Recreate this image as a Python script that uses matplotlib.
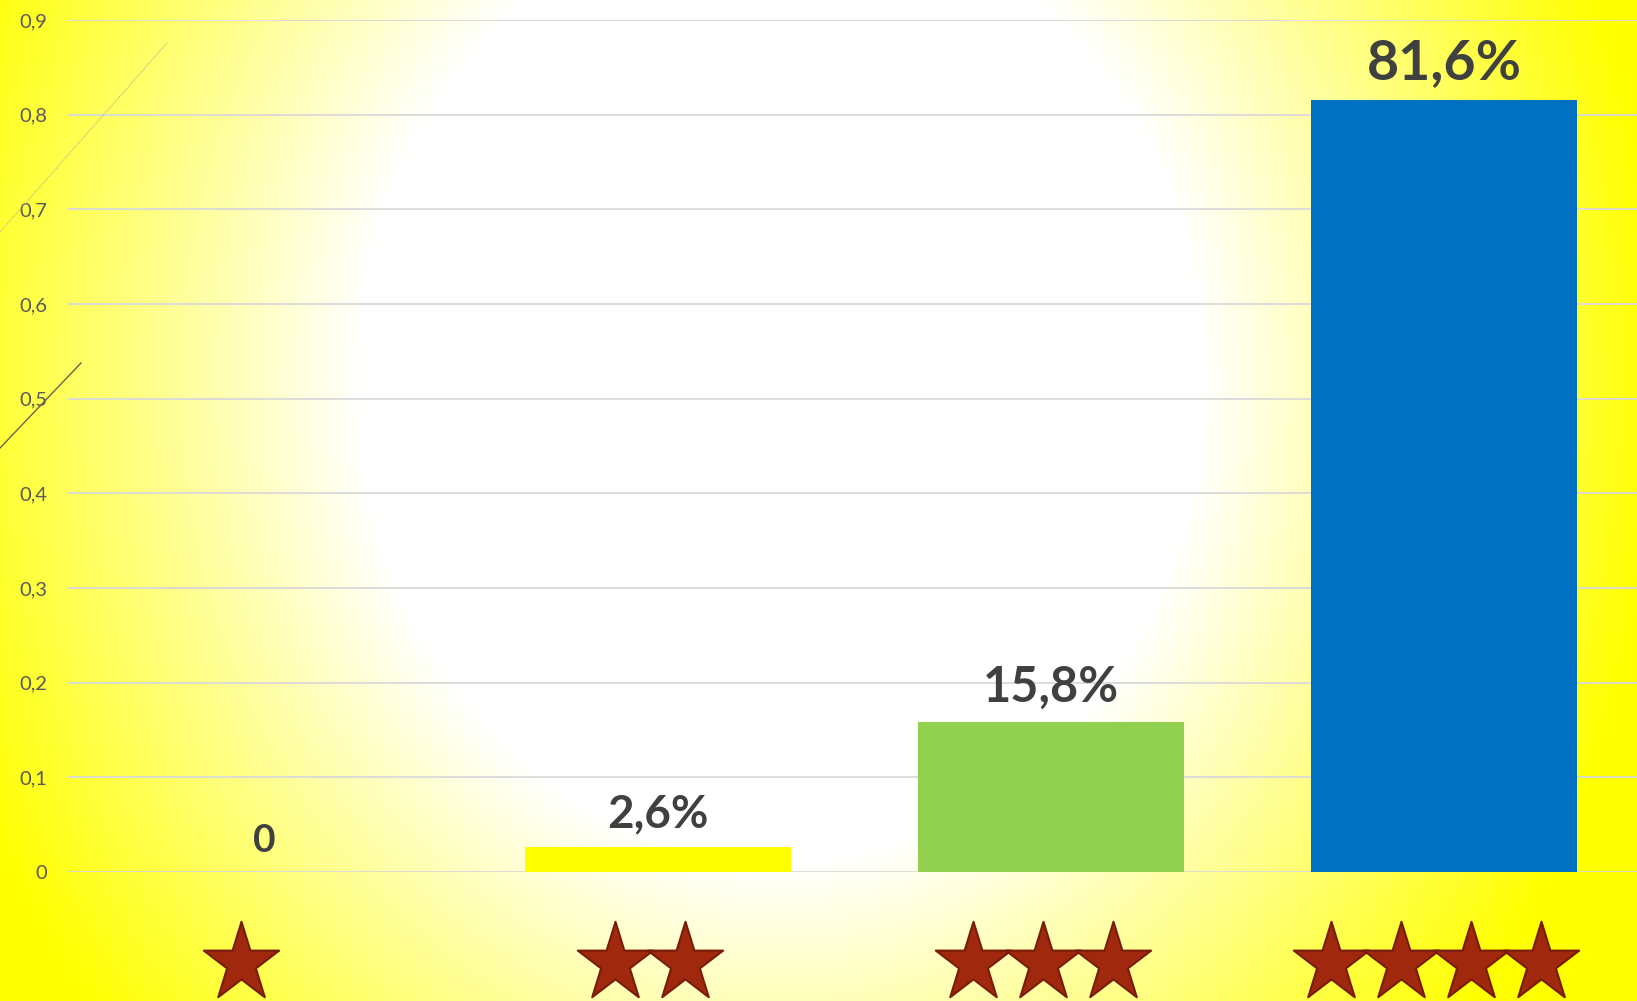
import numpy as np
import matplotlib.pyplot as plt
from matplotlib.path import Path
from matplotlib.lines import Line2D
from matplotlib.ticker import FuncFormatter

# data
star_counts = [1, 2, 3, 4]
values = [0.0, 0.026, 0.158, 0.816]
value_labels = ["0", "2,6%", "15,8%", "81,6%"]
label_sizes = [28, 33, 35, 40]
bar_colors = ["#ffff00", "#ffff00", "#92d050", "#0070c0"]
yticks = [0, 0.1, 0.2, 0.3, 0.4, 0.5, 0.6, 0.7, 0.8, 0.9]

W, H = 1637, 1001
fig = plt.figure(figsize=(W / 100, H / 100), dpi=100)

# radial white -> yellow background
bg = fig.add_axes([0, 0, 1, 1], zorder=-10)
yy, xx = np.mgrid[0:H, 0:W]
d = np.sqrt(((xx - 780) / 420.0) ** 2 + ((yy - 380) / 480.0) ** 2)
t = np.clip((d - 1.0) / 1.1, 0, 1)
img = np.ones((H, W, 3))
img[..., 2] = 1.0 - t
bg.imshow(img, aspect="auto", extent=[0, 1, 0, 1])
bg.axis("off")

ax = fig.add_axes([68 / W, 1 - 872 / H, 1 - 68 / W, (872 - 20) / H])
ax.set_facecolor("none")

x = np.arange(len(values))
ax.bar(x, values, width=0.677, color=bar_colors, zorder=3)

ax.set_xlim(-0.5, 3.49)
ax.set_ylim(0, 0.9)
ax.set_yticks(yticks)
ax.yaxis.set_major_formatter(FuncFormatter(lambda v, p: "0" if v == 0 else f"{v:.1f}".replace(".", ",")))
ax.grid(axis="y", color="#d9d9d9", linewidth=1.3, zorder=0)
ax.set_axisbelow(True)
ax.tick_params(axis="y", length=0, pad=15, labelsize=14.5, labelcolor="#595959")
ax.tick_params(axis="x", length=0, labelbottom=False)
for lab in ax.get_yticklabels():
    lab.set_fontfamily("Lato")
for s in ax.spines.values():
    s.set_visible(False)

# value labels
for xi, v, lab, fs in zip(x, values, value_labels, label_sizes):
    ax.annotate(lab, (xi, v), xytext=(0, 14.5), textcoords="offset points",
                ha="center", va="baseline", fontsize=fs, fontweight="bold",
                color="#404040", family="Lato", zorder=5)

# star category labels
ang = np.pi / 2 + np.arange(10) * np.pi / 5
rad = np.where(np.arange(10) % 2 == 0, 1.0, 0.381966)
verts = np.column_stack([0.95 * rad * np.cos(ang), rad * np.sin(ang)])
verts = np.vstack([verts, verts[:1]])
star = Path(verts, [Path.MOVETO] + [Path.LINETO] * 9 + [Path.CLOSEPOLY])
step = 0.178
for xi, n in zip(x, star_counts):
    shift = -0.06 if n == 1 else -0.02
    sx = xi + shift + (np.arange(n) - (n - 1) / 2) * step
    for s_x in sx:
        ax.plot([s_x], [-0.096], marker=star, markersize=60, linestyle="none",
                markerfacecolor="#a0290d", markeredgecolor="#781c08",
                markeredgewidth=1.5, clip_on=False, zorder=6)

# stray diagonal strokes at the left edge
fig.add_artist(Line2D([0, 81 / W], [1 - 448 / H, 1 - 363 / H], color="#6b6349", linewidth=1.0))
fig.add_artist(Line2D([0, 167 / W], [1 - 232 / H, 1 - 43 / H], color="#b8b090",
                      linewidth=0.8, linestyle=(0, (1, 1))))

fig.savefig("out.png", dpi=100)
